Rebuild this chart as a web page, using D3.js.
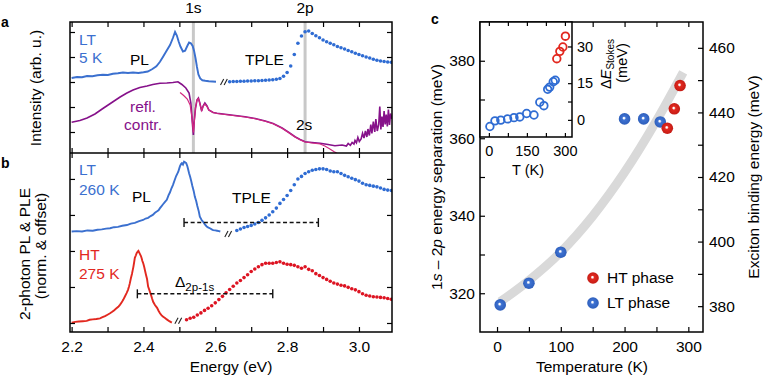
<!DOCTYPE html>
<html>
<head>
<meta charset="utf-8">
<script src="https://cdn.jsdelivr.net/npm/d3@7"></script>
<style>
  body { margin: 0; background: #fff; }
  text { font-family: "Liberation Sans", Arial, Helvetica, sans-serif; }
</style>
</head>
<body>
<svg id="fig"></svg>
<script>
// ---- data ----
// panel a (arb. units), energy in eV
const aPL = [[2.200,3.16],[2.215,3.20],[2.229,3.19],[2.243,3.24],[2.258,3.23],[2.272,3.27],[2.287,3.29],[2.301,3.28],[2.315,3.33],[2.329,3.35],[2.343,3.38],[2.357,3.36],[2.371,3.38],[2.386,3.36],[2.400,3.39],[2.412,3.42],[2.425,3.52],[2.436,3.63],[2.446,3.81],[2.455,4.02],[2.464,4.24],[2.474,4.48],[2.482,4.76],[2.488,5.00],[2.493,4.86],[2.498,4.62],[2.503,4.42],[2.510,4.22],[2.516,4.25],[2.522,4.44],[2.527,4.58],[2.532,4.55],[2.537,4.44],[2.541,4.24],[2.545,3.95],[2.549,3.60],[2.553,3.30],[2.558,3.14],[2.564,3.07],[2.572,3.05],[2.582,3.03],[2.592,3.02],[2.602,3.01]];
const aTPLE = [[2.64,3.01],[2.65,3.02],[2.66,3.02],[2.67,3.03],[2.68,3.03],[2.69,3.04],[2.70,3.04],[2.71,3.05],[2.72,3.05],[2.73,3.06],[2.74,3.07],[2.75,3.08],[2.76,3.09],[2.77,3.11],[2.78,3.14],[2.79,3.23],[2.80,3.38],[2.81,3.64],[2.82,4.10],[2.83,4.55],[2.84,4.84],[2.85,5.01],[2.86,5.04],[2.87,4.94],[2.88,4.85],[2.89,4.77],[2.90,4.68],[2.91,4.61],[2.92,4.55],[2.93,4.49],[2.94,4.42],[2.95,4.37],[2.96,4.32],[2.97,4.26],[2.98,4.21],[2.99,4.15],[3.00,4.10],[3.01,4.05],[3.02,4.00],[3.03,3.96],[3.04,3.91],[3.05,3.87],[3.06,3.84],[3.07,3.82],[3.08,3.80],[3.09,3.79]];
const aRefl = [[2.200,1.39],[2.223,1.46],[2.243,1.56],[2.265,1.72],[2.287,1.94],[2.310,2.16],[2.335,2.40],[2.354,2.56],[2.371,2.68],[2.390,2.78],[2.410,2.84],[2.426,2.90],[2.446,2.95],[2.465,2.96],[2.482,2.98],[2.496,3.01],[2.507,2.90],[2.518,2.76],[2.527,2.56],[2.532,2.16],[2.536,1.40],[2.539,0.88],[2.541,1.40],[2.545,1.96],[2.549,2.28],[2.553,2.36],[2.557,2.16],[2.562,1.84],[2.566,2.04],[2.571,2.16],[2.577,2.04],[2.582,1.88],[2.594,1.78],[2.605,1.75],[2.627,1.71],[2.655,1.66],[2.683,1.61],[2.711,1.54],[2.739,1.44],[2.761,1.34],[2.786,1.16],[2.805,0.98],[2.822,0.81],[2.836,0.70],[2.850,0.61],[2.869,0.58],[2.892,0.55],[2.914,0.50],[2.933,0.45],[2.953,0.48],[2.965,0.44],[2.970,0.54],[2.976,0.47],[2.981,0.58],[2.986,0.52],[2.989,0.66],[2.993,0.57],[2.997,0.78],[3.001,0.62],[3.006,0.72],[3.010,0.95],[3.014,0.76],[3.018,1.04],[3.022,0.80],[3.025,1.12],[3.029,0.86],[3.033,1.30],[3.036,0.94],[3.040,1.42],[3.044,1.00],[3.047,1.52],[3.051,1.04],[3.055,1.30],[3.058,2.02],[3.061,1.10],[3.064,1.62],[3.067,1.20],[3.070,1.84],[3.073,1.30],[3.076,1.70],[3.079,1.22],[3.082,1.90],[3.085,1.28],[3.088,1.74],[3.092,1.52]];
const aFit = [[2.502,2.58],[2.512,2.46],[2.522,2.32],[2.530,2.08],[2.535,1.60],[2.539,0.98],[2.542,1.48],[2.545,1.98],[2.549,2.28],[2.553,2.34],[2.557,2.14],[2.562,1.86],[2.566,2.02],[2.571,2.12],[2.577,2.02],[2.582,1.88],[2.594,1.78],[2.605,1.74],[2.627,1.70],[2.655,1.65],[2.683,1.60],[2.711,1.53],[2.739,1.43],[2.761,1.33],[2.786,1.15],[2.805,0.97],[2.822,0.80],[2.836,0.69],[2.850,0.60],[2.869,0.56],[2.892,0.52],[2.905,0.44],[2.918,0.33],[2.930,0.22],[2.940,0.14]];

// panel b (norm. & offset)
const bLtPL = [[2.200,2.54],[2.214,2.55],[2.229,2.54],[2.244,2.57],[2.259,2.56],[2.272,2.59],[2.284,2.60],[2.296,2.62],[2.307,2.63],[2.318,2.66],[2.329,2.67],[2.341,2.70],[2.354,2.72],[2.365,2.76],[2.376,2.78],[2.388,2.83],[2.399,2.86],[2.406,2.90],[2.413,2.92],[2.420,2.97],[2.426,3.00],[2.432,3.06],[2.438,3.10],[2.442,3.13],[2.446,3.19],[2.450,3.24],[2.454,3.29],[2.460,3.36],[2.465,3.42],[2.470,3.55],[2.474,3.63],[2.478,3.74],[2.482,3.83],[2.487,3.97],[2.491,4.08],[2.494,4.14],[2.497,4.20],[2.500,4.30],[2.502,4.36],[2.505,4.42],[2.507,4.44],[2.510,4.40],[2.513,4.48],[2.516,4.46],[2.519,4.44],[2.522,4.36],[2.524,4.28],[2.527,4.16],[2.530,4.06],[2.533,3.94],[2.536,3.81],[2.540,3.66],[2.543,3.51],[2.547,3.38],[2.550,3.25],[2.554,3.10],[2.557,2.95],[2.562,2.86],[2.566,2.81],[2.571,2.74],[2.576,2.68],[2.581,2.65],[2.585,2.63],[2.590,2.60],[2.594,2.58],[2.600,2.57],[2.605,2.56],[2.610,2.55],[2.614,2.54]];
const bLtTPLE = [[2.66,2.57],[2.67,2.61],[2.68,2.65],[2.69,2.68],[2.70,2.71],[2.71,2.75],[2.72,2.79],[2.73,2.85],[2.74,2.92],[2.75,3.00],[2.76,3.09],[2.77,3.19],[2.78,3.32],[2.79,3.43],[2.80,3.54],[2.81,3.68],[2.82,3.84],[2.83,4.00],[2.84,4.07],[2.85,4.15],[2.86,4.20],[2.87,4.24],[2.88,4.26],[2.89,4.28],[2.90,4.28],[2.91,4.26],[2.92,4.22],[2.93,4.20],[2.94,4.20],[2.95,4.15],[2.96,4.10],[2.97,4.06],[2.98,4.02],[2.99,3.98],[3.00,3.94],[3.01,3.88],[3.02,3.84],[3.03,3.82],[3.04,3.80],[3.05,3.78],[3.06,3.75],[3.07,3.71],[3.08,3.69],[3.09,3.68]];
const bHtPL = [[2.200,0.01],[2.210,0.03],[2.220,0.04],[2.231,0.05],[2.242,0.06],[2.250,0.09],[2.259,0.10],[2.269,0.11],[2.279,0.13],[2.286,0.16],[2.293,0.19],[2.300,0.23],[2.307,0.27],[2.313,0.31],[2.318,0.35],[2.324,0.40],[2.330,0.45],[2.335,0.51],[2.340,0.58],[2.344,0.65],[2.348,0.73],[2.353,0.83],[2.357,0.92],[2.360,1.02],[2.362,1.10],[2.365,1.24],[2.368,1.36],[2.370,1.46],[2.372,1.56],[2.374,1.68],[2.376,1.81],[2.379,1.88],[2.381,1.94],[2.384,1.98],[2.386,2.00],[2.388,1.96],[2.390,1.92],[2.393,1.86],[2.395,1.80],[2.397,1.72],[2.399,1.67],[2.402,1.56],[2.404,1.47],[2.407,1.34],[2.410,1.22],[2.413,1.01],[2.417,0.90],[2.421,0.78],[2.424,0.68],[2.427,0.59],[2.432,0.50],[2.438,0.42],[2.442,0.34],[2.446,0.27],[2.450,0.22],[2.454,0.18],[2.460,0.14],[2.465,0.10],[2.472,0.05],[2.479,0.01]];
const bHtTPLE = [[2.52,0.09],[2.53,0.13],[2.54,0.16],[2.55,0.22],[2.56,0.28],[2.57,0.35],[2.58,0.41],[2.59,0.48],[2.60,0.56],[2.61,0.65],[2.62,0.74],[2.63,0.84],[2.64,0.93],[2.65,1.02],[2.66,1.11],[2.67,1.18],[2.68,1.26],[2.69,1.34],[2.70,1.43],[2.71,1.50],[2.72,1.56],[2.73,1.62],[2.74,1.66],[2.75,1.66],[2.76,1.66],[2.77,1.68],[2.78,1.70],[2.79,1.66],[2.80,1.63],[2.81,1.62],[2.82,1.60],[2.83,1.56],[2.84,1.52],[2.85,1.56],[2.86,1.49],[2.87,1.45],[2.88,1.37],[2.89,1.32],[2.90,1.26],[2.91,1.21],[2.92,1.16],[2.93,1.11],[2.94,1.08],[2.95,1.05],[2.96,1.03],[2.97,0.99],[2.98,0.95],[2.99,0.92],[3.00,0.87],[3.01,0.81],[3.02,0.77],[3.03,0.75],[3.04,0.73],[3.05,0.72],[3.06,0.71],[3.07,0.70],[3.08,0.68],[3.09,0.66]];
// 1s - 2p gaps drawn as dashed bars: [from eV, to eV, level]
const ltGap = [2.513, 2.887, 2.79];
const htGap = [2.383, 2.760, 0.81];
const stateE = [2.539, 2.850];
const stateNames = ["1s", "2p"];
const energyTicks = [2.2, 2.3, 2.4, 2.5, 2.6, 2.7, 2.8, 2.9, 3.0];

// panel c
const ltTemp = [5, 50, 100, 200, 230, 256];
const ltSep = [317.0, 322.6, 330.6, 365.0, 365.0, 364.2];
const htTemp = [267, 278, 287];
const htSep = [362.6, 367.6, 373.6];
const guideTemp = [5, 50, 100, 150, 200, 250, 292];
const guideSep = [317.8, 323.3, 330.6, 339.9, 351.2, 364.5, 377.0];
// inset: Stokes shift (meV)
const insLtTemp = [4, 24, 47, 74, 99, 122, 149, 178, 201, 217, 232, 240, 254, 262];
const insLtShift = [-2.7, -0.4, -0.1, 0.4, 0.9, 1.2, 2.6, 2.0, 7.2, 5.8, 12.5, 13.4, 15.6, 16.2];
const insHtTemp = [268, 280, 292, 302];
const insHtShift = [25.0, 28.0, 29.8, 34.2];

// ---- drawing ----
const blue = "#3b70cf", blueDot = "#2f6cd3", red = "#e2281f", redDot = "#dd1422";
const purple = "#86118a", pink = "#d3287f";

const svg = d3.select("#fig").attr("width", 763).attr("height", 378);
const defs = svg.append("defs");

const xE = d3.scaleLinear().domain([2.1955, 3.092]).range([70, 392]);
const yA = d3.scaleLinear().domain([0.16, 5.4]).range([153, 22]);
const yB = d3.scaleLinear().domain([-0.25, 4.72]).range([332, 153]);

defs.append("clipPath").attr("id", "clipA").append("rect")
    .attr("x", 70).attr("y", 22).attr("width", 322).attr("height", 131);
defs.append("clipPath").attr("id", "clipB").append("rect")
    .attr("x", 70).attr("y", 153).attr("width", 322).attr("height", 179);

function lineOf(ys) {
    return d3.line().x(d => xE(d[0])).y(d => ys(d[1]));
}
function noDomain(g) { g.select(".domain").remove(); g.selectAll("line").attr("stroke-width", 1.2); }

// 1s / 2p markers
svg.append("g").selectAll("line").data(stateE).join("line")
    .attr("x1", d => xE(d)).attr("x2", d => xE(d))
    .attr("y1", 22).attr("y2", 153)
    .attr("stroke", "#c8c8c8").attr("stroke-width", 3);
svg.append("g").selectAll("text").data(stateNames).join("text")
    .attr("x", (d, i) => xE(stateE[i])).attr("y", 13)
    .attr("text-anchor", "middle").attr("font-size", "15.5px").text(d => d);

// panel a curves
const gA = svg.append("g").attr("clip-path", "url(#clipA)");
gA.append("path").datum(aRefl).attr("d", lineOf(yA))
    .attr("fill", "none").attr("stroke", purple).attr("stroke-width", 1.6);
gA.append("path").datum(aFit).attr("d", lineOf(yA))
    .attr("fill", "none").attr("stroke", pink).attr("stroke-width", 1.2);
gA.append("path").datum(aPL).attr("d", lineOf(yA))
    .attr("fill", "none").attr("stroke", blue).attr("stroke-width", 1.9);
gA.selectAll("circle").data(aTPLE).join("circle")
    .attr("cx", d => xE(d[0])).attr("cy", d => yA(d[1])).attr("r", 1.8)
    .attr("fill", blueDot);

// panel b curves
const gB = svg.append("g").attr("clip-path", "url(#clipB)");
gB.append("path").datum(bLtPL).attr("d", lineOf(yB))
    .attr("fill", "none").attr("stroke", blue).attr("stroke-width", 1.9);
gB.append("path").datum(bHtPL).attr("d", lineOf(yB))
    .attr("fill", "none").attr("stroke", red).attr("stroke-width", 1.9);
gB.selectAll(".lt").data(bLtTPLE).join("circle")
    .attr("cx", d => xE(d[0])).attr("cy", d => yB(d[1])).attr("r", 1.8).attr("fill", blueDot);
gB.selectAll(".ht").data(bHtTPLE).join("circle")
    .attr("cx", d => xE(d[0])).attr("cy", d => yB(d[1])).attr("r", 1.8).attr("fill", redDot);

// gap bars
[ltGap, htGap].forEach(gap => {
    const y = yB(gap[2]);
    svg.append("line").attr("x1", xE(gap[0])).attr("x2", xE(gap[1]))
        .attr("y1", y).attr("y2", y).attr("stroke", "#111")
        .attr("stroke-width", 1.4).attr("stroke-dasharray", "4,2.6");
    [gap[0], gap[1]].forEach(e => {
        svg.append("line").attr("x1", xE(e)).attr("x2", xE(e))
            .attr("y1", y - 4.5).attr("y2", y + 4.5).attr("stroke", "#111").attr("stroke-width", 1.4);
    });
});

// break marks "//"
function breakMark(x, y) {
    [-1.8, 1.8].forEach(dx => {
        svg.append("line").attr("x1", x + dx - 1.6).attr("y1", y + 3)
            .attr("x2", x + dx + 1.6).attr("y2", y - 3)
            .attr("stroke", "#222").attr("stroke-width", 1.1);
    });
}
breakMark(xE(2.624), yA(3.0));
breakMark(xE(2.636), yB(2.47));
breakMark(xE(2.497), yB(0.06));

// frames and ticks a/b
svg.append("rect").attr("x", 70).attr("y", 22).attr("width", 322).attr("height", 310)
    .attr("fill", "none").attr("stroke", "#000").attr("stroke-width", 1.5);
svg.append("line").attr("x1", 70).attr("x2", 392).attr("y1", 153).attr("y2", 153)
    .attr("stroke", "#000").attr("stroke-width", 1.5);

svg.append("g").attr("transform", "translate(70,0)")
    .call(d3.axisLeft(yA).tickValues([1, 2, 3, 4, 5]).tickSize(-5).tickFormat("")).call(noDomain);
svg.append("g").attr("transform", "translate(392,0)")
    .call(d3.axisRight(yA).tickValues([1, 2, 3, 4, 5]).tickSize(-5).tickFormat("")).call(noDomain);
svg.append("g").attr("transform", "translate(70,0)")
    .call(d3.axisLeft(yB).tickValues([0, 1, 2, 3, 4]).tickSize(-5).tickFormat("")).call(noDomain);
svg.append("g").attr("transform", "translate(392,0)")
    .call(d3.axisRight(yB).tickValues([0, 1, 2, 3, 4]).tickSize(-5).tickFormat("")).call(noDomain);
svg.append("g").attr("transform", "translate(0,22)")
    .call(d3.axisTop(xE).tickValues(energyTicks).tickSize(-5).tickFormat("")).call(noDomain);
svg.append("g").attr("transform", "translate(0,153)")
    .call(d3.axisBottom(xE).tickValues(energyTicks).tickSize(-5).tickFormat("")).call(noDomain);
svg.append("g").attr("transform", "translate(0,153)")
    .call(d3.axisTop(xE).tickValues(energyTicks).tickSize(-5).tickFormat("")).call(noDomain);
svg.append("g").attr("transform", "translate(0,332)")
    .call(d3.axisBottom(xE).tickValues(energyTicks).tickSize(-5).tickPadding(9)
        .tickFormat(d => Math.round(d * 10) % 2 === 0 ? d.toFixed(1) : ""))
    .call(noDomain)
    .call(g => g.selectAll("text").attr("font-size", "15.5px").attr("font-family", null).attr("fill", "#000"));

// texts a/b
function label(x, y, txt, color, size, anchor) {
    return svg.append("text").attr("x", x).attr("y", y).attr("fill", color || "#000")
        .attr("font-size", (size || 15.5) + "px").attr("text-anchor", anchor || "start").text(txt);
}
label(1, 27, "a", "#000", 14).attr("font-weight", "bold");
label(1, 168, "b", "#000", 14).attr("font-weight", "bold");
label(431, 24, "c", "#000", 14).attr("font-weight", "bold");

label(79, 45, "LT", blue);
label(79, 63, "5 K", blue);
label(130, 65, "PL");
label(245, 65, "TPLE");
label(143, 112, "refl.", purple, 15.5, "middle");
label(143, 130, "contr.", purple, 15.5, "middle");
label(296, 130, "2s");

label(79, 175, "LT", blue);
label(79, 195, "260 K", blue);
label(132, 202, "PL");
label(232, 203, "TPLE");
label(79, 260, "HT", red);
label(79, 279, "275 K", red);
const dl = label(175, 287, "\u0394");
dl.append("tspan").attr("font-size", "11.5px").attr("dy", 4).text("2p-1s");

label(231, 372, "Energy (eV)", "#000", 15.5, "middle");
svg.append("text").attr("transform", "translate(41,88) rotate(-90)")
    .attr("text-anchor", "middle").attr("font-size", "15.5px").text("Intensity (arb. u.)");
svg.append("text").attr("transform", "translate(30,254) rotate(-90)")
    .attr("text-anchor", "middle").attr("font-size", "15.5px").text("2-photon PL & PLE");
svg.append("text").attr("transform", "translate(46,246) rotate(-90)")
    .attr("text-anchor", "middle").attr("font-size", "15.5px").text("(norm. & offset)");

// ---- panel c ----
const xT = d3.scaleLinear().domain([-26.7, 323]).range([480, 703]);
const yS = d3.scaleLinear().domain([310, 390]).range([332, 22]);
const yEb = d3.scaleLinear().domain([372, 468]).range([332, 22]);

function sphereGrad(id, base, dark) {
    const g = defs.append("radialGradient").attr("id", id)
        .attr("cx", "50%").attr("cy", "50%").attr("r", "55%").attr("fx", "44%").attr("fy", "42%");
    g.append("stop").attr("offset", "0%").attr("stop-color", "#ffffff");
    g.append("stop").attr("offset", "10%").attr("stop-color", "#ffffff").attr("stop-opacity", 0.95);
    g.append("stop").attr("offset", "30%").attr("stop-color", base);
    g.append("stop").attr("offset", "100%").attr("stop-color", dark);
}
sphereGrad("ballBlue", "#3e72d2", "#2c5cb8");
sphereGrad("ballRed", "#e2291f", "#c01a14");

const tempTicks = [0, 50, 100, 150, 200, 250, 300];
svg.append("path").datum(d3.zip(guideTemp, guideSep))
    .attr("d", d3.line().curve(d3.curveMonotoneX).x(d => xT(d[0])).y(d => yS(d[1])))
    .attr("fill", "none").attr("stroke", "#d9d9d9").attr("stroke-width", 9);

svg.append("g").selectAll("circle").data(d3.zip(ltTemp, ltSep)).join("circle")
    .attr("cx", d => xT(d[0])).attr("cy", d => yS(d[1])).attr("r", 5.8).attr("fill", "url(#ballBlue)");
svg.append("g").selectAll("circle").data(d3.zip(htTemp, htSep)).join("circle")
    .attr("cx", d => xT(d[0])).attr("cy", d => yS(d[1])).attr("r", 5.8).attr("fill", "url(#ballRed)");

// legend
svg.append("circle").attr("cx", 593).attr("cy", 278).attr("r", 5.8).attr("fill", "url(#ballRed)");
svg.append("circle").attr("cx", 593).attr("cy", 303).attr("r", 5.8).attr("fill", "url(#ballBlue)");
label(607, 283, "HT phase");
label(607, 308, "LT phase");

svg.append("rect").attr("x", 480).attr("y", 22).attr("width", 223).attr("height", 310)
    .attr("fill", "none").attr("stroke", "#000").attr("stroke-width", 1.5);

svg.append("g").attr("transform", "translate(0,332)")
    .call(d3.axisBottom(xT).tickValues(tempTicks).tickSize(-5).tickPadding(9)
        .tickFormat(d => d % 100 === 0 ? d : ""))
    .call(noDomain)
    .call(g => g.selectAll("text").attr("font-size", "15.5px").attr("font-family", null).attr("fill", "#000"));
svg.append("g").attr("transform", "translate(0,22)")
    .call(d3.axisTop(xT).tickValues(tempTicks.filter(t => t >= 150)).tickSize(-5).tickFormat(""))
    .call(noDomain);
svg.append("g").attr("transform", "translate(703,0)")
    .call(d3.axisRight(yEb).tickValues([380, 390, 400, 410, 420, 430, 440, 450, 460]).tickSize(-5).tickPadding(6)
        .tickFormat(d => d % 20 === 0 ? d : ""))
    .call(noDomain)
    .call(g => g.selectAll("text").attr("font-size", "15.5px").attr("font-family", null).attr("fill", "#000"));

label(592, 372, "Temperature (K)", "#000", 15.5, "middle");
const ly = svg.append("text").attr("transform", "translate(442,177) rotate(-90)")
    .attr("text-anchor", "middle").attr("font-size", "15.5px");
ly.append("tspan").text("1");
ly.append("tspan").attr("font-style", "italic").text("s");
ly.append("tspan").text(" \u2013 2");
ly.append("tspan").attr("font-style", "italic").text("p");
ly.append("tspan").text(" energy separation (meV)");
svg.append("text").attr("transform", "translate(759,177) rotate(-90)")
    .attr("text-anchor", "middle").attr("font-size", "15.5px").text("Exciton binding energy (meV)");

// inset
const xTi = d3.scaleLinear().domain([-35, 328]).range([480, 572]);
const yDi = d3.scaleLinear().domain([-7, 40]).range([137, 22]);
const insTicks = [0, 75, 150, 225, 300];

svg.append("rect").attr("x", 480).attr("y", 22).attr("width", 92).attr("height", 115)
    .attr("fill", "#fff").attr("stroke", "#000").attr("stroke-width", 1.5);
svg.append("g").attr("transform", "translate(0,137)")
    .call(d3.axisBottom(xTi).tickValues(insTicks).tickSize(-4).tickPadding(9)
        .tickFormat(d => d % 150 === 0 ? d : ""))
    .call(noDomain)
    .call(g => g.selectAll("text").attr("font-size", "14.5px").attr("font-family", null).attr("fill", "#000"));
svg.append("g").attr("transform", "translate(0,22)")
    .call(d3.axisTop(xTi).tickValues(insTicks).tickSize(-4).tickFormat("")).call(noDomain);
svg.append("g").attr("transform", "translate(572,0)")
    .call(d3.axisRight(yDi).tickValues([0, 7.5, 15, 22.5, 30]).tickSize(-4).tickPadding(5)
        .tickFormat(d => d % 15 === 0 ? d : ""))
    .call(noDomain)
    .call(g => g.selectAll("text").attr("font-size", "14.5px").attr("font-family", null).attr("fill", "#000"));
// main left axis drawn over the inset edge
svg.append("g").attr("transform", "translate(480,0)")
    .call(d3.axisLeft(yS).tickValues([320, 330, 340, 350, 360, 370, 380]).tickSize(-5).tickPadding(5)
        .tickFormat(d => d % 20 === 0 ? d : ""))
    .call(noDomain)
    .call(g => g.selectAll("text").attr("font-size", "15.5px").attr("font-family", null).attr("fill", "#000"));

svg.append("g").selectAll("circle").data(d3.zip(insLtTemp, insLtShift)).join("circle")
    .attr("cx", d => xTi(d[0])).attr("cy", d => yDi(d[1])).attr("r", 3.8)
    .attr("fill", "none").attr("stroke", blueDot).attr("stroke-width", 1.8);
svg.append("g").selectAll("circle").data(d3.zip(insHtTemp, insHtShift)).join("circle")
    .attr("cx", d => xTi(d[0])).attr("cy", d => yDi(d[1])).attr("r", 3.8)
    .attr("fill", "none").attr("stroke", red).attr("stroke-width", 1.8);

label(528, 175, "T (K)", "#000", 14.5, "middle");
const ls = svg.append("text").attr("transform", "translate(611,64) rotate(-90)")
    .attr("text-anchor", "middle").attr("font-size", "14.5px");
ls.append("tspan").text("\u0394");
ls.append("tspan").attr("font-style", "italic").text("E");
ls.append("tspan").attr("font-size", "10px").attr("dy", 3).text("Stokes");
svg.append("text").attr("transform", "translate(627,63) rotate(-90)")
    .attr("text-anchor", "middle").attr("font-size", "14.5px").text("(meV)");
</script>
</body>
</html>
